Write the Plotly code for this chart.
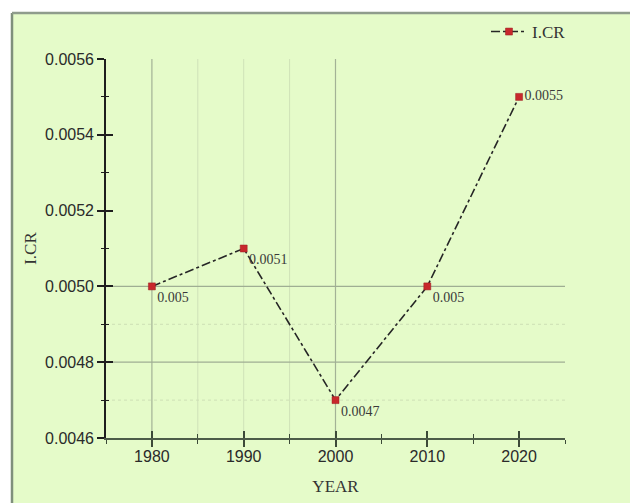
import plotly.graph_objects as go

# Series values
years = [1980, 1990, 2000, 2010, 2020]
icr = [0.0050, 0.0051, 0.0047, 0.0050, 0.0055]
value_labels = ["0.005", "0.0051", "0.0047", "0.005", "0.0055"]
label_positions = ["bottom right", "bottom right", "bottom right", "bottom right", "middle right"]

# Axis settings
x_ticks = [1980, 1990, 2000, 2010, 2020]
y_ticks = [0.0046, 0.0048, 0.0050, 0.0052, 0.0054, 0.0056]
y_tick_text = ["0.0046", "0.0048", "0.0050", "0.0052", "0.0054", "0.0056"]
x_range = [1975, 2025]
y_range = [0.0046, 0.0056]

# Partial grid
major_vgrid = [1980, 2000]
minor_vgrid = [1985, 1990, 1995]
major_hgrid = [0.0050, 0.0048]
minor_hgrid = [0.0049, 0.0047]

W, H = 630, 503
ML, MR, MT, MB = 106, 65, 59, 65
PW, PH = W - ML - MR, H - MT - MB


def px_x(p):
    return (p - ML) / PW


def px_y(p):
    return (H - MB - p) / PH


SERIF = "Liberation Serif, Times New Roman, serif"
SANS = "Liberation Sans, Arial, sans-serif"
GREEN = "#e5fbc9"

fig = go.Figure()

fig.add_trace(go.Scatter(
    x=years, y=icr,
    mode="lines+markers+text",
    name="I.CR",
    line=dict(color="#262626", width=1.6, dash="dashdot"),
    marker=dict(symbol="square", size=7, color="#c8282c",
                line=dict(color="#9a1c20", width=0.5)),
    text=value_labels,
    textposition=label_positions,
    textfont=dict(family=SERIF, size=14, color="#3a3a3a"),
    cliponaxis=False,
))

# Companion trace on the overlay axes that carry the inner half of the ticks
fig.add_trace(go.Scatter(
    x=years, y=icr, xaxis="x2", yaxis="y2",
    mode="markers", marker=dict(opacity=0),
    showlegend=False, hoverinfo="skip",
))

shapes = []
# green panel with grey left/top border
shapes.append(dict(type="rect", xref="paper", yref="paper",
                   x0=px_x(12), x1=px_x(W + 2), y0=px_y(H + 2), y1=px_y(13),
                   fillcolor=GREEN, line=dict(width=0), layer="below"))
shapes.append(dict(type="line", xref="paper", yref="paper",
                   x0=px_x(12), x1=px_x(12), y0=px_y(H + 2), y1=px_y(13),
                   line=dict(color="#7f8f7c", width=2.5), layer="below"))
shapes.append(dict(type="line", xref="paper", yref="paper",
                   x0=px_x(12), x1=px_x(W + 2), y0=px_y(13), y1=px_y(13),
                   line=dict(color="#8f9c8c", width=2.5), layer="below"))

for gx in major_vgrid:
    shapes.append(dict(type="line", xref="x", yref="y", x0=gx, x1=gx,
                       y0=y_range[0], y1=y_range[1],
                       line=dict(color="#a3b296", width=1.2), layer="below"))
for gx in minor_vgrid:
    shapes.append(dict(type="line", xref="x", yref="y", x0=gx, x1=gx,
                       y0=y_range[0], y1=y_range[1],
                       line=dict(color="#cfe2b8", width=1), layer="below"))
for gy in major_hgrid:
    shapes.append(dict(type="line", xref="x", yref="y", x0=x_range[0], x1=x_range[1],
                       y0=gy, y1=gy,
                       line=dict(color="#9fae93", width=1.2), layer="below"))
for gy in minor_hgrid:
    shapes.append(dict(type="line", xref="x", yref="y", x0=x_range[0], x1=x_range[1],
                       y0=gy, y1=gy,
                       line=dict(color="#cde0b6", width=1, dash="dot"), layer="below"))

x_common = dict(range=x_range, tickmode="array", tickvals=x_ticks,
                showgrid=False, zeroline=False, fixedrange=True)
y_common = dict(range=y_range, tickmode="array", tickvals=y_ticks,
                showgrid=False, zeroline=False, fixedrange=True)

fig.update_layout(
    width=W, height=H,
    margin=dict(l=ML, r=MR, t=MT, b=MB, autoexpand=False),
    paper_bgcolor="white",
    plot_bgcolor="rgba(0,0,0,0)",
    shapes=shapes,
    showlegend=True,
    legend=dict(x=px_x(486), y=px_y(32), xanchor="left", yanchor="middle",
                bgcolor="rgba(0,0,0,0)", borderwidth=0,
                font=dict(family=SERIF, size=17, color="#333333"),
                itemwidth=36),
    xaxis=dict(
        **x_common,
        showline=True, linecolor="#4c5c48", linewidth=1.6,
        ticks="outside", ticklen=7, tickwidth=1.6, tickcolor="#3c4a38",
        minor=dict(ticks="outside", ticklen=4, tickwidth=1.4, tickcolor="#3c4a38",
                   dtick=5, tick0=1975, showgrid=False),
        tickfont=dict(family=SANS, size=16, color="#2a2a2a"),
        ticklabelstandoff=-4,
        title=dict(text="YEAR", font=dict(family=SERIF, size=17, color="#333333"),
                   standoff=16),
    ),
    yaxis=dict(
        **y_common,
        ticktext=y_tick_text,
        showline=True, linecolor="#1e1e1e", linewidth=1.6,
        ticks="outside", ticklen=7, tickwidth=1.6, tickcolor="#1e1e1e",
        minor=dict(ticks="outside", ticklen=3, tickwidth=1.4, tickcolor="#1e1e1e",
                   dtick=0.0001, tick0=0.0046, showgrid=False),
        tickfont=dict(family=SANS, size=16, color="#2a2a2a"),
        title=dict(text="I.CR", font=dict(family=SERIF, size=17, color="#333333"),
                   standoff=4),
    ),
    xaxis2=dict(
        **x_common, overlaying="x", anchor="y2", side="bottom",
        showline=False, showticklabels=False,
        ticks="inside", ticklen=7, tickwidth=1.6, tickcolor="#3c4a38",
        minor=dict(ticks="inside", ticklen=4, tickwidth=1.4, tickcolor="#3c4a38",
                   dtick=5, tick0=1975, showgrid=False),
    ),
    yaxis2=dict(
        **y_common, overlaying="y", anchor="x2", side="left",
        showline=False, showticklabels=False,
        ticks="inside", ticklen=7, tickwidth=1.6, tickcolor="#1e1e1e",
        minor=dict(ticks="inside", ticklen=3, tickwidth=1.4, tickcolor="#1e1e1e",
                   dtick=0.0001, tick0=0.0046, showgrid=False),
    ),
)

fig.write_html("out.html")
